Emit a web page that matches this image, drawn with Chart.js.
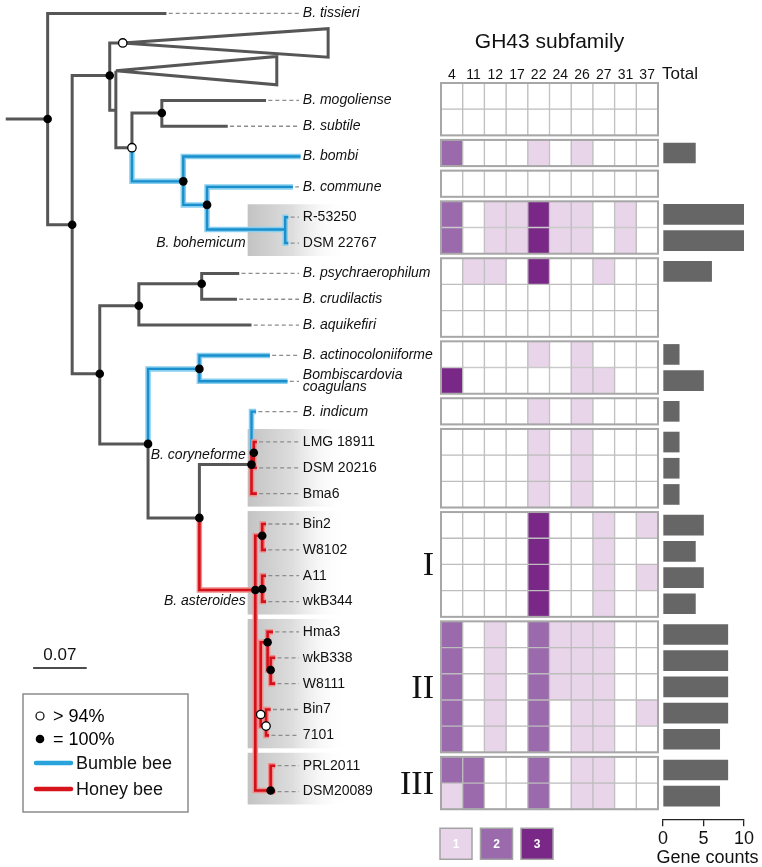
<!DOCTYPE html>
<html lang="en">
<head>
  <meta charset="UTF-8" />
  <title>GH43 subfamily genes across Bifidobacterium</title>
  <style>
    * { box-sizing: border-box; }
    body, html { margin: 0; padding: 0; background: #fff; }
    #fig { position: relative; width: 762px; height: 867px; overflow: hidden; }
    #fig canvas { position: absolute; top: 0; }
    #treeChart { left: 0; }
    #heatChart { left: 395px; }
    #totalChart { left: 640px; }
  </style>
</head>
<body>
  <div id="fig">
    <canvas id="treeChart" width="440" height="867"></canvas>
    <canvas id="heatChart" width="267" height="867"></canvas>
    <canvas id="totalChart" width="122" height="867"></canvas>
  </div>

  <script src="https://cdn.jsdelivr.net/npm/chart.js"></script>
  <script>
    // ---- data ----
    const rowNames = ['B. mogoliense', 'B. subtile', 'B. bombi', 'B. commune', 'R-53250', 'DSM 22767',
      'B. psychraerophilum', 'B. crudilactis', 'B. aquikefiri', 'B. actinocoloniiforme', 'Bombiscardovia coagulans',
      'B. indicum', 'LMG 18911', 'DSM 20216', 'Bma6', 'Bin2', 'W8102', 'A11', 'wkB344',
      'Hma3', 'wkB338', 'W8111', 'Bin7', '7101', 'PRL2011', 'DSM20089'];
    // heat-map block each row belongs to
    const rowBox = [0, 0, 1, 2, 3, 3, 4, 4, 4, 5, 5, 6, 7, 7, 7, 8, 8, 8, 8, 9, 9, 9, 9, 9, 10, 10];
    const subfamilies = ['4', '11', '12', '17', '22', '24', '26', '27', '31', '37'];
    const geneCounts = [
      [0, 0, 0, 0, 0, 0, 0, 0, 0, 0],
      [0, 0, 0, 0, 0, 0, 0, 0, 0, 0],
      [2, 0, 0, 0, 1, 0, 1, 0, 0, 0],
      [0, 0, 0, 0, 0, 0, 0, 0, 0, 0],
      [2, 0, 1, 1, 3, 1, 1, 0, 1, 0],
      [2, 0, 1, 1, 3, 1, 1, 0, 1, 0],
      [0, 1, 1, 0, 3, 0, 0, 1, 0, 0],
      [0, 0, 0, 0, 0, 0, 0, 0, 0, 0],
      [0, 0, 0, 0, 0, 0, 0, 0, 0, 0],
      [0, 0, 0, 0, 1, 0, 1, 0, 0, 0],
      [3, 0, 0, 0, 0, 0, 1, 1, 0, 0],
      [0, 0, 0, 0, 1, 0, 1, 0, 0, 0],
      [0, 0, 0, 0, 1, 0, 1, 0, 0, 0],
      [0, 0, 0, 0, 1, 0, 1, 0, 0, 0],
      [0, 0, 0, 0, 1, 0, 1, 0, 0, 0],
      [0, 0, 0, 0, 3, 0, 0, 1, 0, 1],
      [0, 0, 0, 0, 3, 0, 0, 1, 0, 0],
      [0, 0, 0, 0, 3, 0, 0, 1, 0, 1],
      [0, 0, 0, 0, 3, 0, 0, 1, 0, 0],
      [2, 0, 1, 0, 2, 1, 1, 1, 0, 0],
      [2, 0, 1, 0, 2, 1, 1, 1, 0, 0],
      [2, 0, 1, 0, 2, 1, 1, 1, 0, 0],
      [2, 0, 1, 0, 2, 0, 1, 1, 0, 1],
      [2, 0, 1, 0, 2, 0, 1, 1, 0, 0],
      [2, 2, 0, 0, 2, 0, 1, 1, 0, 0],
      [1, 2, 0, 0, 2, 0, 1, 1, 0, 0]
    ];
    const totals = [0, 0, 4, 0, 10, 10, 6, 0, 0, 2, 5, 2, 2, 2, 2, 5, 4, 5, 4, 8, 8, 8, 8, 7, 8, 7];
    const totalTicks = [0, 5, 10];
    const legendLevels = [1, 2, 3];

    // tree: [id, parent, depth (subst./site), y (row units, null = leaf row), branch colour, support]
    // support: 2 = 100%, 1 = >94%, 0 = not shown
    const treeNodes = [
      ['root', null, 0.055, 0.72, 'g', 2],
      ['B. tissieri', 'root', 0.210, -3.36, 'g', 0],
      ['N1', 'root', 0.087, 4.81, 'g', 2],
      ['N2', 'N1', 0.136, -0.96, 'g', 2],
      ['cladeA', 'N2', 0.153, -2.22, 'g', 1],
      ['N4', 'N2', 0.144, 0.38, 'g', 0],
      ['cladeB', 'N4', 0.144, -1.15, 'g', 0],
      ['N5', 'N4', 0.165, 1.83, 'g', 1],
      ['N6', 'N5', 0.204, 0.49, 'g', 2],
      ['B. mogoliense', 'N6', 0.340, null, 'g', 0],
      ['B. subtile', 'N6', 0.290, null, 'g', 0],
      ['N7', 'N5', 0.232, 3.13, 'b', 2],
      ['B. bombi', 'N7', 0.385, null, 'b', 0],
      ['N8', 'N7', 0.263, 4.04, 'b', 2],
      ['B. commune', 'N8', 0.375, null, 'b', 0],
      ['Nboh', 'N8', 0.365, 4.99, 'b', 0],
      ['R-53250', 'Nboh', 0.369, null, 'b', 0],
      ['DSM 22767', 'Nboh', 0.369, null, 'b', 0],
      ['N3', 'N1', 0.123, 10.57, 'g', 2],
      ['N10', 'N3', 0.174, 7.94, 'g', 2],
      ['N12', 'N10', 0.256, 7.09, 'g', 2],
      ['B. psychraerophilum', 'N12', 0.305, null, 'g', 0],
      ['B. crudilactis', 'N12', 0.302, null, 'g', 0],
      ['B. aquikefiri', 'N10', 0.321, null, 'g', 0],
      ['N11', 'N3', 0.186, 13.28, 'g', 2],
      ['N14', 'N11', 0.253, 10.38, 'b', 2],
      ['B. actinocoloniiforme', 'N14', 0.345, null, 'b', 0],
      ['Bombiscardovia coagulans', 'N14', 0.368, null, 'b', 0],
      ['N13', 'N11', 0.253, 16.14, 'g', 2],
      ['C1', 'N13', 0.321, 14.08, 'g', 2],
      ['B. indicum', 'C1', 0.327, null, 'b', 0],
      ['C2', 'C1', 0.324, 13.62, 'r', 2],
      ['LMG 18911', 'C2', 0.328, null, 'r', 0],
      ['DSM 20216', 'C2', 0.328, null, 'r', 0],
      ['Bma6', 'C1', 0.328, null, 'r', 0],
      ['A0', 'N13', 0.326, 18.93, 'r', 2],
      ['BW', 'A0', 0.335, 16.83, 'r', 2],
      ['Bin2', 'BW', 0.340, null, 'r', 0],
      ['W8102', 'BW', 0.340, null, 'r', 0],
      ['AW', 'A0', 0.335, 18.89, 'r', 2],
      ['A11', 'AW', 0.340, null, 'r', 0],
      ['wkB344', 'AW', 0.340, null, 'r', 0],
      ['G2', 'A0', 0.333, 23.74, 'r', 1],
      ['H1', 'G2', 0.342, 20.95, 'r', 2],
      ['Hma3', 'H1', 0.349, null, 'r', 0],
      ['WW', 'H1', 0.346, 22.02, 'r', 2],
      ['wkB338', 'WW', 0.352, null, 'r', 0],
      ['W8111', 'WW', 0.352, null, 'r', 0],
      ['B7', 'G2', 0.340, 24.19, 'r', 1],
      ['Bin7', 'B7', 0.346, null, 'r', 0],
      ['7101', 'B7', 0.344, null, 'r', 0],
      ['G3', 'A0', 0.346, 26.68, 'r', 2],
      ['PRL2011', 'G3', 0.352, null, 'r', 0],
      ['DSM20089', 'G3', 0.352, null, 'r', 0]
    ];
    // collapsed clades: [node, tip depth, half height in rows]
    const collapsedClades = [['cladeA', 0.421, 0.55], ['cladeB', 0.354, 0.55]];
    const shadedBlocks = [3, 7, 8, 9, 10];
    const cladeNames = [['B. bohemicum', 5, 5], ['B. coryneforme', 12, 13], ['B. asteroides', 18, 18]];
    const cladeNumerals = [['I', 8], ['II', 9], ['III', 10]];
    const SCALE_BAR = 0.07;

    // ---- layout ----
    const FONT = '"Liberation Sans", Arial, Helvetica, sans-serif';
    const SERIF = '"Liberation Serif", "DejaVu Serif", serif';
    const LEVEL_COLORS = ['#ffffff', '#e8d5ea', '#9a6aad', '#7a2887'];
    const GAP = 0.172;                 // gap between heat-map blocks, in rows
    const ROW_PX = 26.2, FIRST_ROW_PX = 96.1, FIG_H = 867;
    const Y_MIN = -FIRST_ROW_PX / ROW_PX;
    const Y_MAX = Y_MIN + FIG_H / ROW_PX;
    const PX_PER_UNIT = 786;           // 0.07 -> 55 px
    const LABEL_X = 0.388, DASH_END = 0.383;
    const SHADE_X0 = 0.316, SHADE_X1 = 0.445;
    const SB_X = 0.036, SB_Y = 21.94;
    const AXIS_Y = 27.63;              // row position of the "Gene counts" axis line

    Chart.defaults.font.family = FONT;
    Chart.defaults.color = '#111';

    const rowPos = rowNames.map((n, i) => i + GAP * rowBox[i]);

    function yAxis() {
      return { type: 'linear', display: false, reverse: true, min: Y_MIN, max: Y_MAX, offset: false };
    }
    function blockSpan(b) {
      const idx = [];
      rowBox.forEach((v, i) => { if (v === b) idx.push(i); });
      return [rowPos[idx[0]] - 0.5, rowPos[idx[idx.length - 1]] + 0.5];
    }
    const baseOpts = {
      responsive: false,
      animation: false,
      events: [],
      plugins: { legend: { display: false }, tooltip: { enabled: false } }
    };

    // ---- tree ----
    const nodes = {};
    treeNodes.forEach(([id, parent, x, y, col, sup]) => {
      nodes[id] = { id, parent, x, y: y !== null ? y : rowPos[rowNames.indexOf(id)], col, sup, kids: 0 };
    });
    treeNodes.forEach(([id, parent]) => { if (parent) nodes[parent].kids++; });
    const collapsedIds = collapsedClades.map(c => c[0]);
    const leaves = Object.values(nodes).filter(n => n.kids === 0 && !collapsedIds.includes(n.id));

    const BREAK = { x: NaN, y: NaN };
    const branchPts = { g: [], b: [], r: [] };
    Object.values(nodes).forEach(n => {
      const p = n.parent ? nodes[n.parent] : { x: 0, y: n.y };
      branchPts[n.col].push({ x: p.x, y: p.y }, { x: p.x, y: n.y }, { x: n.x, y: n.y }, BREAK);
    });
    const dashPts = [];
    leaves.forEach(n => { if (n.x < DASH_END) dashPts.push({ x: n.x + 0.003, y: n.y }, { x: DASH_END, y: n.y }, BREAK); });
    const trianglePts = [];
    collapsedClades.forEach(([id, tip, half]) => {
      const n = nodes[id];
      trianglePts.push({ x: n.x, y: n.y }, { x: tip, y: n.y - half }, { x: tip, y: n.y + half }, { x: n.x, y: n.y }, BREAK);
    });
    const fullDots = Object.values(nodes).filter(n => n.sup === 2).map(n => ({ x: n.x, y: n.y }));
    const openDots = Object.values(nodes).filter(n => n.sup === 1).map(n => ({ x: n.x, y: n.y }));

    function lineSet(data, color, width, order, extra) {
      return Object.assign({ data, showLine: true, borderColor: color, borderWidth: width, pointRadius: 0,
        fill: false, order, borderJoinStyle: 'miter' }, extra || {});
    }

    const treeDecor = {
      id: 'treeDecor',
      beforeDatasetsDraw(chart) {
        const { ctx, scales: { x, y } } = chart;
        ctx.save();
        shadedBlocks.forEach(b => {
          const [t, btm] = blockSpan(b);
          const x0 = x.getPixelForValue(SHADE_X0), x1 = x.getPixelForValue(SHADE_X1);
          const yt = y.getPixelForValue(t), yb = y.getPixelForValue(btm);
          const g = ctx.createLinearGradient(x0, 0, x1, 0);
          g.addColorStop(0, '#c3c3c3');
          g.addColorStop(0.45, '#dddddd');
          g.addColorStop(1, 'rgba(255,255,255,0)');
          ctx.fillStyle = g;
          ctx.fillRect(x0, yt, x1 - x0, yb - yt);
        });
        ctx.restore();
      },
      afterDatasetsDraw(chart) {
        const { ctx, scales: { x, y } } = chart;
        ctx.save();
        ctx.fillStyle = '#111';
        ctx.textBaseline = 'middle';
        // tip labels
        const lx = x.getPixelForValue(LABEL_X);
        leaves.forEach(n => {
          const italic = /^B(\.|ombiscardovia)/.test(n.id);
          ctx.font = (italic ? 'italic ' : '') + '14px ' + FONT;
          ctx.textAlign = 'left';
          const ly = y.getPixelForValue(n.y);
          if (n.id === 'Bombiscardovia coagulans') {
            ctx.fillText('Bombiscardovia', lx, ly - 6);
            ctx.fillText('coagulans', lx, ly + 6);
          } else {
            ctx.fillText(n.id, lx, ly);
          }
        });
        // clade names
        ctx.font = 'italic 14px ' + FONT;
        ctx.textAlign = 'right';
        cladeNames.forEach(([txt, r1, r2]) => {
          ctx.fillText(txt, x.getPixelForValue(SHADE_X0) - 2, y.getPixelForValue((rowPos[r1] + rowPos[r2]) / 2));
        });
        // scale bar text
        ctx.font = '17px ' + FONT;
        ctx.textAlign = 'center';
        ctx.fillText(String(SCALE_BAR), x.getPixelForValue(SB_X + SCALE_BAR / 2), y.getPixelForValue(SB_Y) - 13);
        // legend
        const bx = 23, by = 694;
        ctx.strokeStyle = '#8c8c8c';
        ctx.lineWidth = 1.5;
        ctx.strokeRect(bx, by, 165, 118);
        ctx.font = '18px ' + FONT;
        ctx.textAlign = 'left';
        ctx.beginPath();
        ctx.arc(bx + 17, by + 22, 4, 0, Math.PI * 2);
        ctx.fillStyle = '#fff'; ctx.fill();
        ctx.strokeStyle = '#000'; ctx.lineWidth = 1.2; ctx.stroke();
        ctx.beginPath();
        ctx.arc(bx + 17, by + 45, 4.3, 0, Math.PI * 2);
        ctx.fillStyle = '#000'; ctx.fill();
        ctx.fillText('> 94%', bx + 30, by + 23);
        ctx.fillText('= 100%', bx + 30, by + 46);
        [['Bumble bee', '#29a3dc', 69], ['Honey bee', '#d7141c', 95]].forEach(([txt, col, dy]) => {
          ctx.strokeStyle = col; ctx.lineWidth = 4.5; ctx.lineCap = 'round';
          ctx.beginPath(); ctx.moveTo(bx + 13, by + dy); ctx.lineTo(bx + 48, by + dy); ctx.stroke();
          ctx.fillStyle = '#111';
          ctx.fillText(txt, bx + 53, by + dy + 1);
        });
        ctx.restore();
      }
    };

    new Chart(document.getElementById('treeChart'), {
      type: 'scatter',
      data: {
        datasets: [
          { data: fullDots, pointRadius: 4.3, pointBackgroundColor: '#000', pointBorderColor: '#000', pointBorderWidth: 0, order: 0 },
          { data: openDots, pointRadius: 4.2, pointBackgroundColor: '#fff', pointBorderColor: '#000', pointBorderWidth: 1.3, order: 0 },
          lineSet(branchPts.r, '#d4111a', 2.6, 2),
          lineSet(branchPts.r, '#f08c8c', 5.5, 3),
          lineSet(branchPts.b, '#1b8fcc', 2.4, 4),
          lineSet(branchPts.b, '#86cff0', 5.5, 5),
          lineSet(branchPts.g, '#565656', 3, 6),
          lineSet(trianglePts, '#565656', 3, 6),
          lineSet([{ x: SB_X, y: SB_Y }, { x: SB_X + SCALE_BAR, y: SB_Y }], '#111', 1.5, 6),
          lineSet(dashPts, '#8d8d8d', 1.3, 7, { borderDash: [4, 3] })
        ]
      },
      options: Object.assign({}, baseOpts, {
        scales: {
          x: { type: 'linear', display: false, min: 0, max: 440 / PX_PER_UNIT },
          y: yAxis()
        }
      }),
      plugins: [treeDecor]
    });

    // ---- heat map ----
    const heatDecor = {
      id: 'heatDecor',
      afterDatasetsDraw(chart) {
        const { ctx, scales: { x, y } } = chart;
        const left = x.getPixelForValue(0), right = x.getPixelForValue(subfamilies.length);
        ctx.save();
        ctx.strokeStyle = '#a7a7a7';
        ctx.lineWidth = 2;
        const nBlocks = rowBox[rowBox.length - 1] + 1;
        for (let b = 0; b < nBlocks; b++) {
          const [t, btm] = blockSpan(b);
          const yt = y.getPixelForValue(t), yb = y.getPixelForValue(btm);
          ctx.strokeRect(left, yt, right - left, yb - yt);
        }
        const topPx = y.getPixelForValue(blockSpan(0)[0]);
        ctx.fillStyle = '#111';
        ctx.textAlign = 'center';
        ctx.textBaseline = 'middle';
        ctx.font = '14px ' + FONT;
        subfamilies.forEach((s, c) => ctx.fillText(s, x.getPixelForValue(c + 0.5), topPx - 8));
        ctx.font = '21px ' + FONT;
        ctx.fillText('GH43 subfamily', (left + right) / 2, topPx - 41);
        // clade numerals
        ctx.font = '34px ' + SERIF;
        ctx.textAlign = 'right';
        cladeNumerals.forEach(([txt, b]) => {
          const [t, btm] = blockSpan(b);
          ctx.fillText(txt, left - 7, y.getPixelForValue((t + btm) / 2) + 2);
        });
        // colour key
        const keyTop = y.getPixelForValue(blockSpan(nBlocks - 1)[1]) + 19;
        legendLevels.forEach((lv, k) => {
          const sx = left - 1 + k * 40.5;
          ctx.fillStyle = LEVEL_COLORS[lv];
          ctx.fillRect(sx, keyTop, 32, 31);
          ctx.strokeStyle = '#a3a3a3';
          ctx.lineWidth = 1.5;
          ctx.strokeRect(sx, keyTop, 32, 31);
          ctx.fillStyle = '#fff';
          ctx.font = 'bold 12px ' + FONT;
          ctx.textAlign = 'center';
          ctx.fillText(String(lv), sx + 16, keyTop + 16);
        });
        ctx.restore();
      }
    };

    new Chart(document.getElementById('heatChart'), {
      type: 'bar',
      data: {
        datasets: subfamilies.map((s, c) => ({
          label: s,
          data: rowPos.map(p => ({ x: [c, c + 1], y: p })),
          backgroundColor: ctx => LEVEL_COLORS[geneCounts[ctx.dataIndex][c]],
          borderColor: '#bdbdbd',
          borderWidth: 1,
          borderSkipped: false,
          barThickness: ROW_PX,
          grouped: false
        }))
      },
      options: Object.assign({}, baseOpts, {
        indexAxis: 'y',
        layout: { padding: { left: 46, right: 4, top: 0, bottom: 0 } },
        scales: {
          x: { type: 'linear', display: false, min: 0, max: subfamilies.length },
          y: yAxis()
        }
      }),
      plugins: [heatDecor]
    });

    // ---- totals ----
    const totalDecor = {
      id: 'totalDecor',
      afterDraw(chart) {
        const { ctx, chartArea, scales: { x, y } } = chart;
        const axisPx = y.getPixelForValue(AXIS_Y);
        ctx.save();
        ctx.fillStyle = '#111';
        ctx.font = '17px ' + FONT;
        ctx.textAlign = 'left';
        ctx.textBaseline = 'middle';
        ctx.fillText('Total', chartArea.left - 1, y.getPixelForValue(blockSpan(0)[0]) - 9);
        // axis tick labels and title
        ctx.font = '18px ' + FONT;
        ctx.textAlign = 'center';
        totalTicks.forEach(v => ctx.fillText(String(v), x.getPixelForValue(v), axisPx + 19));
        ctx.fillText('Gene counts', x.getPixelForValue(5.5), axisPx + 38);
        ctx.restore();
      }
    };

    new Chart(document.getElementById('totalChart'), {
      type: 'bar',
      data: {
        datasets: [{
          // rows with no GH43 genes get no bar at all
          data: rowPos.map((p, i) => ({ x: totals[i], y: p })).filter(d => d.x > 0),
          backgroundColor: '#666666',
          borderWidth: 0,
          barThickness: 20
        }]
      },
      options: Object.assign({}, baseOpts, {
        indexAxis: 'y',
        layout: { padding: { left: 23, right: 18, top: 0, bottom: 0 } },
        scales: {
          x: {
            type: 'linear', min: 0, max: 10,
            position: { y: AXIS_Y },
            afterBuildTicks: s => { s.ticks = totalTicks.map(v => ({ value: v })); },
            ticks: { display: false },
            grid: { drawOnChartArea: false, tickLength: 6, color: '#222', lineWidth: 1.3 },
            border: { display: true, color: '#222', width: 1.3 },
            title: { display: false }
          },
          y: yAxis()
        }
      }),
      plugins: [totalDecor]
    });
  </script>
</body>
</html>
